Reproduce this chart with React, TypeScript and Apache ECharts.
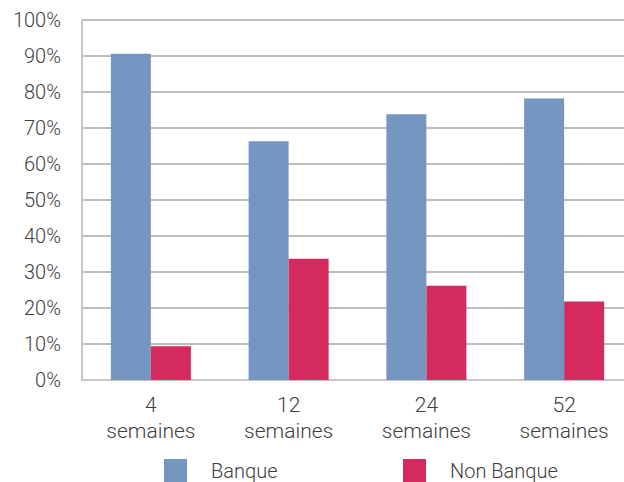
import React, { useEffect, useRef } from "react";
import * as echarts from "echarts";

const categories = ["4\nsemaines", "12\nsemaines", "24\nsemaines", "52\nsemaines"];
const banque = [90.6, 66.3, 73.8, 78.2];
const nonBanque = [9.4, 33.7, 26.2, 21.8];
const seriesNames = ["Banque", "Non Banque"];
const colors = ["#7596C1", "#D42A5E"];

export default function App() {
  const ref = useRef<HTMLDivElement>(null);
  useEffect(() => {
    const chart = echarts.init(ref.current!, null, { renderer: "svg" });
    const font = "Roboto";
    const legendText = {
      fontFamily: font,
      fontSize: 20,
      lineHeight: 20,
      color: "#404040",
      padding: [0, 0, 0, 19],
      fontWeight: 300,
    };
    chart.setOption({
      animation: false,
      textStyle: { fontFamily: font },
      grid: { left: 82, top: 20, right: 0, height: 360, containLabel: false },
      legend: [
        {
          data: [seriesNames[0]],
          left: 164,
          top: 459,
          padding: 0,
          itemWidth: 23,
          itemHeight: 23,
          icon: "rect",
          textStyle: legendText,
        },
        {
          data: [seriesNames[1]],
          left: 403,
          top: 459,
          padding: 0,
          itemWidth: 23,
          itemHeight: 23,
          icon: "rect",
          textStyle: legendText,
        },
      ],
      xAxis: {
        type: "category",
        data: categories,
        axisLine: { show: true, lineStyle: { color: "#C8C8C8", width: 2 } },
        axisTick: { show: false },
        axisLabel: {
          fontFamily: font,
          fontSize: 21,
          color: "#404040",
          fontWeight: 300,
          lineHeight: 26,
          margin: 12,
        },
      },
      yAxis: {
        type: "value",
        min: 0,
        max: 100,
        interval: 10,
        axisLine: { show: true, lineStyle: { color: "#C8C8C8", width: 2 } },
        axisTick: { show: false },
        splitLine: { lineStyle: { color: "#A8A8A8", width: 1.5 } },
        axisLabel: {
          formatter: "{value}%",
          fontFamily: font,
          fontSize: 20,
          color: "#404040",
          fontWeight: 300,
          margin: 21,
        },
      },
      series: [
        {
          name: seriesNames[0],
          type: "bar",
          data: banque,
          itemStyle: { color: colors[0] },
          barWidth: 40,
          barGap: "0%",
        },
        {
          name: seriesNames[1],
          type: "bar",
          data: nonBanque,
          itemStyle: { color: colors[1] },
          barWidth: 40,
          barGap: "0%",
        },
      ],
    });
    return () => chart.dispose();
  }, []);
  return (
    <div
      style={{ position: "fixed", left: 0, top: 0, width: 624, height: 482, overflow: "hidden", background: "#fff" }}
    >
      <div ref={ref} style={{ width: 633, height: 482 }} />
    </div>
  );
}
